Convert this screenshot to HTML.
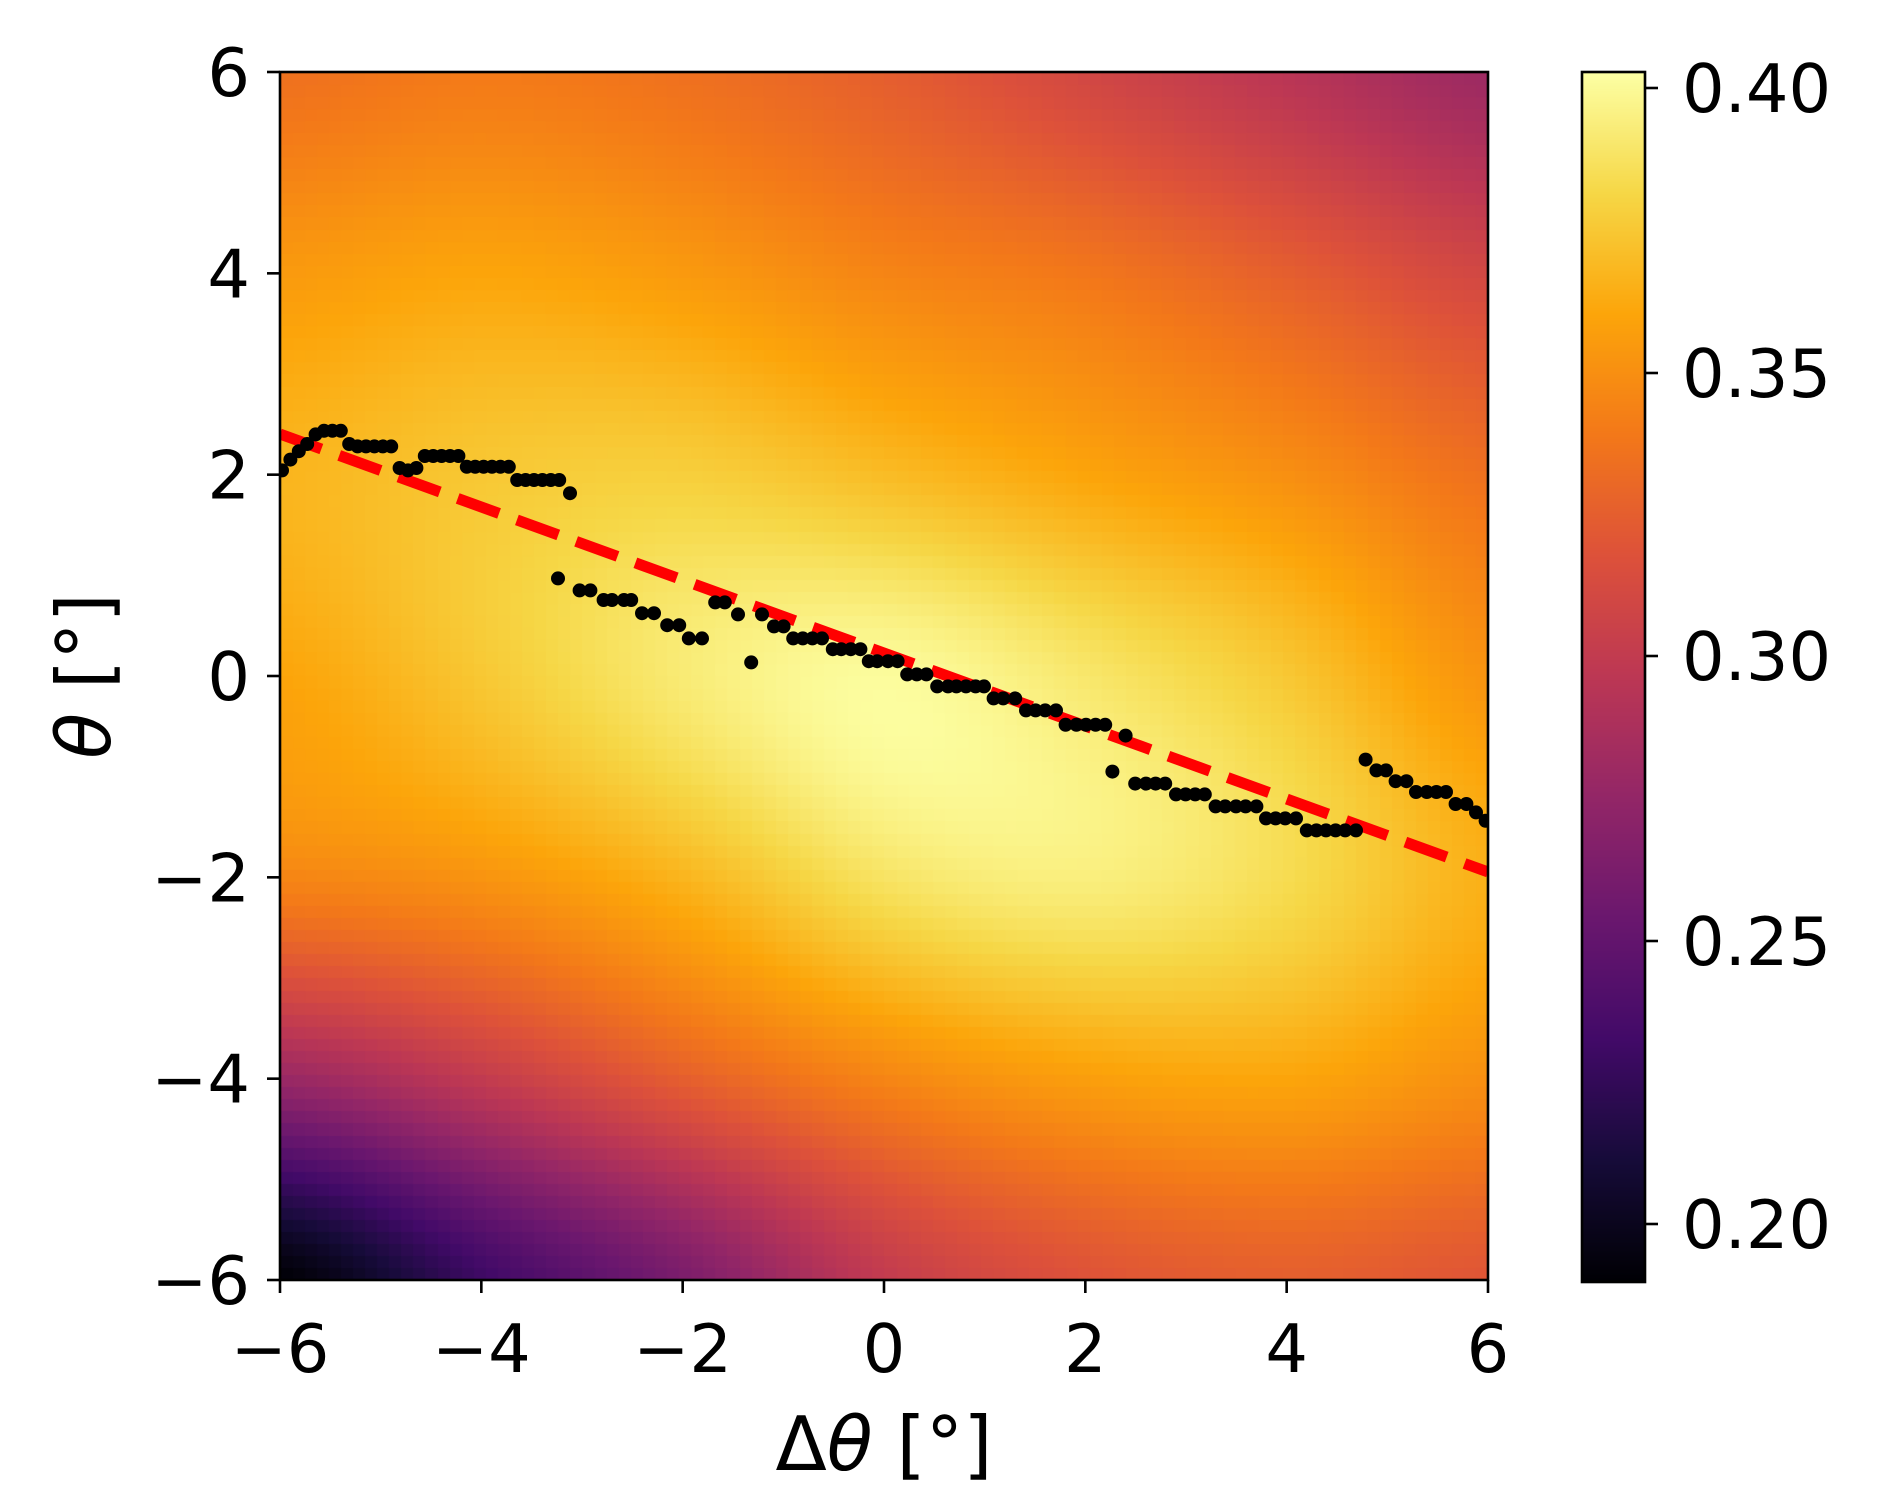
<!DOCTYPE html>
<html><head><meta charset="utf-8">
<style>
html,body{margin:0;padding:0;background:#fff;}
#wrap{position:relative;width:1882px;height:1504px;overflow:hidden;}
canvas{position:absolute;}
svg{position:absolute;left:0;top:0;}
</style></head><body>
<div id="wrap">
<canvas id="hm" width="1208" height="1208" style="left:280px;top:72px;"></canvas>
<canvas id="cb" width="63" height="1210" style="left:1582px;top:72px;"></canvas>
<svg id="ov" width="1882" height="1504" xmlns="http://www.w3.org/2000/svg" font-family="'DejaVu Sans','Liberation Sans',sans-serif">
<defs><clipPath id="ax"><rect x="280" y="72" width="1208" height="1208"/></clipPath></defs>
<g clip-path="url(#ax)">
<line x1="280" y1="434" x2="1488" y2="872" stroke="#ff0000" stroke-width="11" stroke-dasharray="44 19"/>
<g id="dots" fill="#000"></g>
</g>
<rect x="280" y="72" width="1208" height="1208" fill="none" stroke="#000" stroke-width="2.6"/>
<rect x="1582" y="72" width="63" height="1210" fill="none" stroke="#000" stroke-width="2.6"/>
<g id="ticks" stroke="#000" stroke-width="2.6"></g>
<g id="labels" font-size="67" fill="#000"></g>
<text x="884" y="1470" font-size="75" text-anchor="middle">Δ<tspan font-style="italic">θ</tspan> [°]</text>
<text transform="translate(110,676) rotate(-90)" font-size="75" text-anchor="middle"><tspan font-style="italic">θ</tspan> [°]</text>
</svg>
</div>
<script>
var stops=[[0,0,0,4],[0.1,22,11,57],[0.2,66,10,104],[0.3,106,23,110],[0.4,147,38,103],[0.5,188,55,84],[0.6,221,81,58],[0.7,243,120,25],[0.8,252,165,10],[0.9,246,215,70],[1,252,255,164]];
function inferno(t){t=Math.max(0,Math.min(1,t));for(var i=1;i<stops.length;i++){if(t<=stops[i][0]){var a=stops[i-1],b=stops[i],f=(t-a[0])/(b[0]-a[0]);return [a[1]+f*(b[1]-a[1]),a[2]+f*(b[2]-a[2]),a[3]+f*(b[3]-a[3])];}}return [252,255,164];}
var vmin=0.1898,vmax=0.4028;
var G=[
[0.335,0.340,0.335,0.325,0.310,0.295,0.280],
[0.355,0.360,0.355,0.345,0.338,0.325,0.310],
[0.367,0.375,0.378,0.370,0.360,0.350,0.335],
[0.360,0.375,0.392,0.401,0.390,0.375,0.352],
[0.345,0.352,0.367,0.388,0.394,0.384,0.365],
[0.278,0.300,0.325,0.345,0.357,0.360,0.350],
[0.190,0.230,0.262,0.300,0.318,0.325,0.320]];
function g(r,c){r=Math.max(0,Math.min(6,r));c=Math.max(0,Math.min(6,c));return G[r][c];}
function cr(p0,p1,p2,p3,t){return 0.5*((2*p1)+(-p0+p2)*t+(2*p0-5*p1+4*p2-p3)*t*t+(-p0+3*p1-3*p2+p3)*t*t*t);}
function val(s,th){
 var cx=(s+6)/2,ry=(6-th)/2;var c0=Math.min(5,Math.floor(cx)),r0=Math.min(5,Math.floor(ry));var tx=cx-c0,ty=ry-r0;
 var rows=[];for(var k=-1;k<=2;k++){var r=r0+k;rows.push(cr(g(r,c0-1),g(r,c0),g(r,c0+1),g(r,c0+2),tx));}
 return cr(rows[0],rows[1],rows[2],rows[3],ty);}
var c=document.getElementById('hm'),ctx=c.getContext('2d'),img=ctx.createImageData(1208,1208);
var N=100,cell=1208/N,grid=[];
for(var j=0;j<N;j++){for(var i=0;i<N;i++){var s=-6+12*(i+0.5)/N,th=6-12*(j+0.5)/N;grid.push(inferno((val(s,th)-vmin)/(vmax-vmin)));}}
for(var y=0;y<1208;y++){var j=Math.min(N-1,Math.floor(y/cell));for(var x=0;x<1208;x++){var i=Math.min(N-1,Math.floor(x/cell));var col=grid[j*N+i],k=(y*1208+x)*4;img.data[k]=col[0];img.data[k+1]=col[1];img.data[k+2]=col[2];img.data[k+3]=255;}}
ctx.putImageData(img,0,0);
var cb=document.getElementById('cb'),cc=cb.getContext('2d');
for(var y=0;y<1210;y++){var col=inferno(1-y/1209);cc.fillStyle='rgb('+col.map(Math.round).join(',')+')';cc.fillRect(0,y,63,1);}
var pts=[[235,392],[242,383],[249,376],[256,370],[263,362],[270,359],[277,359],[284,359],[291,370],[298,372],[305,372],[312,372],[319,372],[326,372],[333,390],[340,392],[347,390],[354,380],[361,380],[368,380],[375,380],[382,380],[389,389],[396,389],[403,389],[410,389],[417,389],[424,389],[431,400],[438,400],[445,400],[452,400],[459,400],[466,400],[475,411],[465,482],[483,492],[492,492],[503,500],[510,500],[520,500],[526,500],[535,511],[545,511],[556,521],[566,521],[574,532],[585,532],[596,502],[604,502],[615,512],[626,552],[635,512],[645,522],[653,522],[661,532],[669,532],[677,532],[685,532],[694,541],[701,541],[709,541],[717,541],[724,551],[731,551],[740,551],[748,551],[756,562],[764,562],[772,562],[781,572],[790,572],[797,572],[805,572],[813,572],[820,572],[828,582],[836,582],[846,582],[855,592],[863,592],[871,592],[880,592],[888,604],[897,604],[905,604],[913,604],[921,604],[927,643],[938,613],[946,653],[955,653],[963,653],[971,653],[980,662],[988,662],[996,662],[1004,662],[1013,672],[1021,672],[1030,672],[1038,672],[1047,672],[1055,682],[1063,682],[1071,682],[1080,682],[1089,692],[1097,692],[1105,692],[1113,692],[1121,692],[1130,692],[1138,633],[1147,642],[1155,642],[1163,651],[1172,651],[1180,660],[1189,660],[1197,660],[1205,660],[1213,670],[1222,670],[1230,677],[1238,684]];
var NS='http://www.w3.org/2000/svg',dg=document.getElementById('dots');
pts.forEach(function(p){var e=document.createElementNS(NS,'circle');e.setAttribute('cx',p[0]*1.2);e.setAttribute('cy',p[1]*1.2);e.setAttribute('r',7);dg.appendChild(e);});
var tg=document.getElementById('ticks'),lg=document.getElementById('labels');
function line(x1,y1,x2,y2){var e=document.createElementNS(NS,'line');e.setAttribute('x1',x1);e.setAttribute('y1',y1);e.setAttribute('x2',x2);e.setAttribute('y2',y2);tg.appendChild(e);}
function text(x,y,t,anchor){var e=document.createElementNS(NS,'text');e.setAttribute('x',x);e.setAttribute('y',y);e.setAttribute('text-anchor',anchor);e.textContent=t;lg.appendChild(e);}
[-6,-4,-2,0,2,4,6].forEach(function(v){
 var lab=(v<0?'\u2212':'')+Math.abs(v);
 var x=280+(v+6)/12*1208;line(x,1280,x,1293);text(x,1372,lab,'middle');
 var y=1280-(v+6)/12*1208;line(280,y,267,y);text(250,y+24,lab,'end');
});
[[0.40,88],[0.35,373],[0.30,656],[0.25,941],[0.20,1224]].forEach(function(t){line(1645,t[1],1658,t[1]);text(1682,t[1]+24,t[0].toFixed(2),'start');});
</script>
</body></html>
